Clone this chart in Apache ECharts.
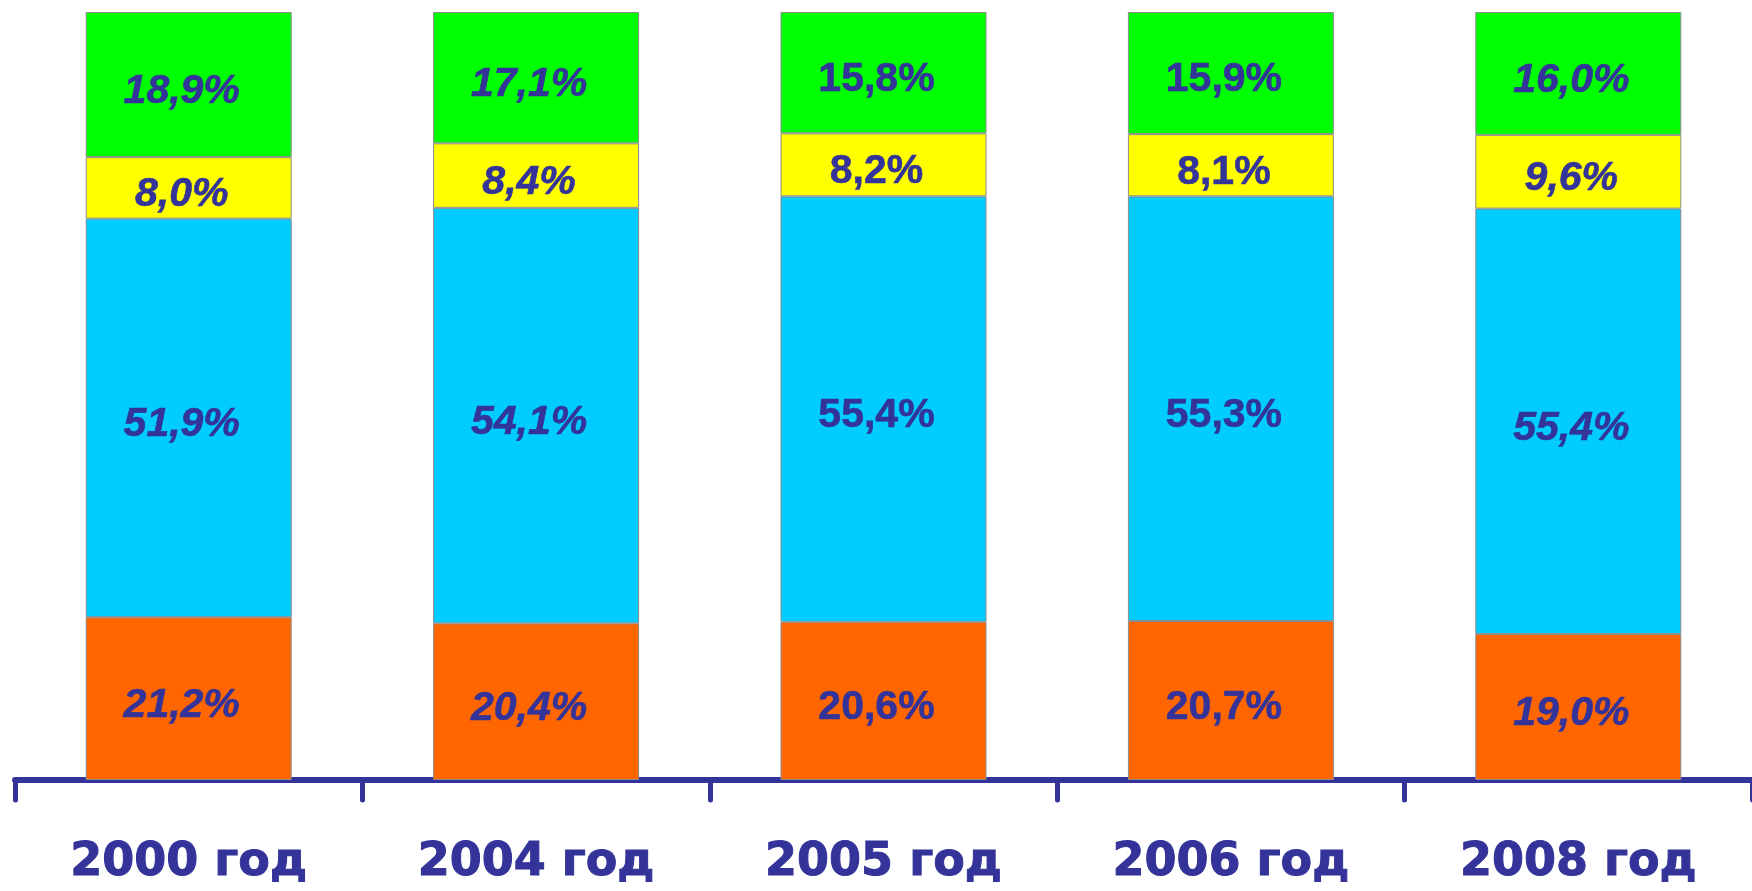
<!DOCTYPE html>
<html>
<head>
<meta charset="utf-8">
<title>Структура</title>
<script src="https://cdn.jsdelivr.net/npm/echarts@6/dist/echarts.min.js"></script>
<style>
    html,body{margin:0;padding:0;background:#fff;}
    #main{width:1752px;height:891px;}
</style>
</head>
<body>
<div id="main"></div>
<script>
var years = ['2000 год','2004 год','2005 год','2006 год','2008 год'];
var orangeVals = [21.2, 20.4, 20.6, 20.7, 19.0];
var blueVals = [51.9, 54.1, 55.4, 55.3, 55.4];
var yellowVals = [8.0, 8.4, 8.2, 8.1, 9.6];
var greenVals = [18.9, 17.1, 15.8, 15.9, 16.0];

var textColor = '#333399';
// в 2005 и 2006 подписи прямые, в остальных столбцах курсив
var uprightCols = [2, 3];

function segLabel(){
    return {
        show: true,
        position: 'inside',
        offset: [-7, 7],
        color: textColor,
        fontFamily: 'Liberation Sans',
        fontStyle: 'italic',
        fontWeight: 'bold',
        fontSize: 41,
        textBorderColor: textColor,
        textBorderWidth: 0.6,
        formatter: function(p){
            return p.value.toFixed(1).replace('.', ',') + '%';
        }
    };
}

function makeSeries(name, data, color){
    var items = [];
    for(var i = 0; i < data.length; i++){
        if(uprightCols.indexOf(i) >= 0){
            items.push({value: data[i], label: {fontStyle: 'normal'}});
        }else{
            items.push({value: data[i]});
        }
    }
    return {
        name: name,
        type: 'bar',
        stack: 'all',
        barWidth: 206,
        data: items,
        itemStyle: {
            color: color,
            borderColor: '#8c8c8c',
            borderWidth: 1
        },
        label: segLabel()
    };
}

var myChart = echarts.init(document.getElementById('main'));
myChart.setOption({
    animation: false,
    grid: {
        left: 15,
        right: -3,
        top: 12,
        bottom: 111
    },
    xAxis: {
        type: 'category',
        data: years,
        axisLine: {
            lineStyle: {color: textColor, width: 6}
        },
        axisTick: {
            show: true,
            length: 20,
            lineStyle: {color: textColor, width: 5, cap: 'round'}
        },
        axisLabel: {
            color: textColor,
            fontFamily: 'DejaVu Sans',
            fontWeight: 'bold',
            fontSize: 46,
            margin: 60,
            textBorderColor: textColor,
            textBorderWidth: 1
        }
    },
    yAxis: {
        type: 'value',
        min: 0,
        max: 100,
        show: false
    },
    series: [
        makeSeries('orange', orangeVals, '#FF6600'),
        makeSeries('blue', blueVals, '#00CCFF'),
        makeSeries('yellow', yellowVals, '#FFFF00'),
        makeSeries('green', greenVals, '#00FF00')
    ]
});
</script>
</body>
</html>
